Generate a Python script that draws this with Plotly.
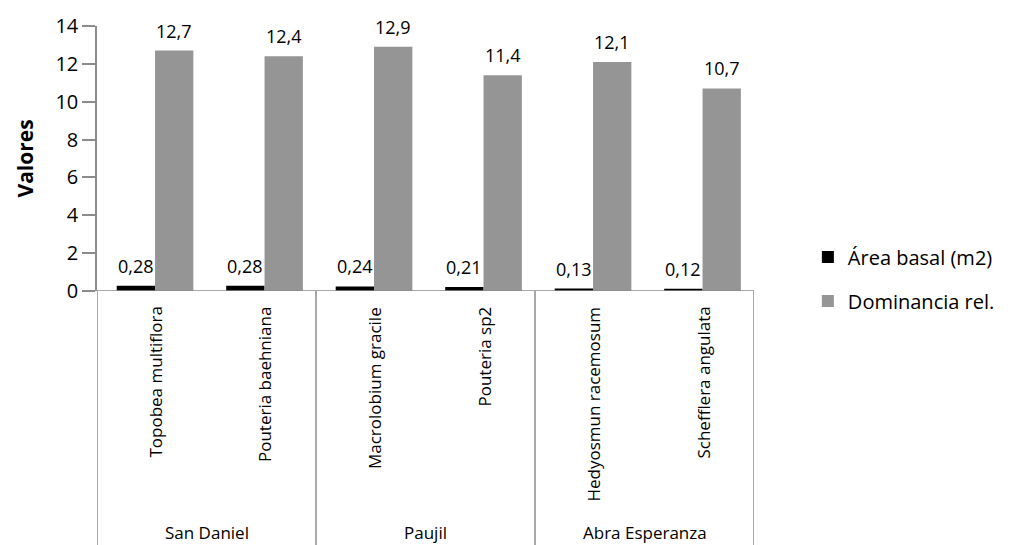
import plotly.graph_objects as go

# Species, sites and values
species = ["Topobea multiflora", "Pouteria baehniana", "Macrolobium gracile",
           "Pouteria sp2", "Hedyosmun racemosum", "Schefflera angulata"]
sites = ["San Daniel", "Paujil", "Abra Esperanza"]
area_basal = [0.28, 0.28, 0.24, 0.21, 0.13, 0.12]
dominancia = [12.7, 12.4, 12.9, 11.4, 12.1, 10.7]
y_ticks = [0, 2, 4, 6, 8, 10, 12, 14]

FONT = "Open Sans, sans-serif"
AXIS_GREY = "#8c8c8c"
BAR_W = 0.35
OFF_A = -0.32          # offset of the black bar inside a category
OFF_D = OFF_A + BAR_W  # gray bar sits right next to it
LABEL_SHIFT = 0.03     # species labels centred on the bar pair

xpos = list(range(len(species)))


def fmt(v, nd):
    return f"{v:.{nd}f}".replace(".", ",")


fig = go.Figure()
fig.add_trace(go.Bar(
    x=xpos, y=area_basal, name="Área basal (m2)", legendgroup="a",
    marker=dict(color="#000000", line=dict(width=0)),
    width=BAR_W, offset=OFF_A,
))
fig.add_trace(go.Bar(
    x=xpos, y=dominancia, name="Dominancia rel.", legendgroup="d",
    marker=dict(color="#959595", line=dict(width=0)),
    width=BAR_W, offset=OFF_D,
))

annotations = []
# Value labels above each bar
for series, off, nd in [(area_basal, OFF_A, 2), (dominancia, OFF_D, 1)]:
    for i, v in enumerate(series):
        annotations.append(dict(
            x=i + off + BAR_W / 2, y=v, xref="x", yref="y", text=fmt(v, nd),
            showarrow=False, xanchor="center", yanchor="bottom", yshift=6,
            font=dict(size=18, color="#000000", family=FONT),
        ))
# Species labels (rotated) under each category
for i, name in enumerate(species):
    annotations.append(dict(
        x=i + LABEL_SHIFT, y=0, xref="x", yref="paper", text=name,
        textangle=-90, showarrow=False, xanchor="center", yanchor="top",
        yshift=-14, font=dict(size=17, color="#000000", family=FONT),
    ))
# Site labels, one per pair of species
for j, site in enumerate(sites):
    annotations.append(dict(
        x=2 * j + 0.5, y=0, xref="x", yref="paper", text=site,
        showarrow=False, xanchor="center", yanchor="middle", yshift=-241,
        font=dict(size=17, color="#000000", family=FONT),
    ))
# Y axis title
annotations.append(dict(
    x=0, y=0.5, xref="paper", yref="paper", text="<b>Valores</b>",
    textangle=-90, showarrow=False, xanchor="center", yanchor="middle",
    xshift=-73, font=dict(size=21, color="#000000", family=FONT),
))

# Group divider lines of the category axis
shapes = []
for b in [-0.5, 1.5, 3.5, 5.5]:
    shapes.append(dict(type="line", xref="x", yref="paper", x0=b, x1=b,
                       y0=0, y1=-1.0, line=dict(color=AXIS_GREY, width=1.5)))
# Baseline extended left past the value axis
shapes.append(dict(type="line", xref="paper", yref="y", x0=-0.02, x1=1,
                   y0=0, y1=0, line=dict(color=AXIS_GREY, width=1.5)))

fig.update_layout(
    width=1013, height=545,
    margin=dict(l=97, r=259, t=22, b=254),
    paper_bgcolor="white", plot_bgcolor="white",
    barmode="overlay",
    font=dict(family=FONT, color="#000000"),
    showlegend=True,
    legend=dict(x=1.082, y=0.045, xanchor="left", yanchor="middle",
                font=dict(size=20, family=FONT, color="#000000"),
                tracegroupgap=15, itemwidth=30, borderwidth=0,
                bgcolor="rgba(0,0,0,0)"),
    annotations=annotations,
    shapes=shapes,
)
fig.update_xaxes(range=[-0.5, 5.5], showticklabels=False, showline=False,
                 showgrid=False, zeroline=False, ticks="")
fig.update_yaxes(range=[0, 14], tickvals=y_ticks, showgrid=False,
                 zeroline=False, showline=True, linecolor=AXIS_GREY,
                 linewidth=1.5, ticks="outside", ticklen=13,
                 tickcolor=AXIS_GREY, tickwidth=1.5,
                 tickfont=dict(size=20, color="#000000", family=FONT))

fig.write_html("out.html")
